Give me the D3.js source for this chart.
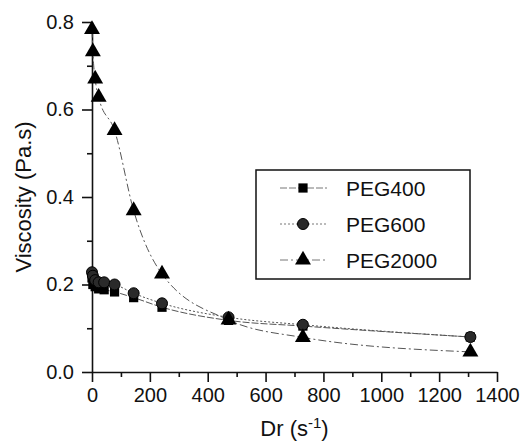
<!DOCTYPE html>
<html lang="en">
<head>
<meta charset="UTF-8">
<title>Viscosity vs Dr</title>
<script src="https://d3js.org/d3.v7.min.js"></script>
<style>
    body { margin: 0; background: #fff; }
    .axis path, .axis line { stroke: #111; stroke-width: 1.6; }
    .axis text { fill: #111; font-family: "Liberation Sans", Arial, sans-serif; font-size: 20px; }
    .title { fill: #111; font-family: "Liberation Sans", Arial, sans-serif; font-size: 22px; }
    .legend text { fill: #111; font-family: "Liberation Sans", Arial, sans-serif; font-size: 21px; }
</style>
</head>
<body>
<div id="chart"></div>
<script>
// shear rate (s-1)
const drPeg400  = [0, 3, 11, 23, 42, 78, 144, 242, 472, 729, 1308];
const drPeg600  = [0, 3, 11, 23, 42, 78, 144, 242, 472, 729, 1308];
const drPeg2000 = [0, 3, 11, 23, 78, 144, 242, 472, 729, 1308];

// viscosity (Pa.s)
const peg400  = [0.215, 0.200, 0.195, 0.190, 0.188, 0.183, 0.170, 0.148, 0.118, 0.105, 0.080];
const peg600  = [0.228, 0.220, 0.210, 0.205, 0.205, 0.200, 0.180, 0.157, 0.125, 0.108, 0.080];
const peg2000 = [0.783, 0.732, 0.670, 0.628, 0.552, 0.369, 0.224, 0.119, 0.079, 0.046];

const xTicks = [0, 200, 400, 600, 800, 1000, 1200, 1400];
const yTicks = [0.0, 0.2, 0.4, 0.6, 0.8];
const xMinor = [100, 300, 500, 700, 900, 1100, 1300];
const yMinor = [0.1, 0.3, 0.5, 0.7];

const series = [
    {name: "PEG400",  x: drPeg400,  y: peg400,  symbol: d3.symbolSquare,   size: 85,  dash: "7,2"},
    {name: "PEG600",  x: drPeg600,  y: peg600,  symbol: d3.symbolCircle,   size: 95,  dash: "2,2"},
    {name: "PEG2000", x: drPeg2000, y: peg2000, symbol: d3.symbolTriangle, size: 110, dash: "8,3,2,3"}
];

const W = 526, H = 444;
const margin = {top: 22, right: 29, bottom: 72, left: 92};
const width = W - margin.left - margin.right;
const height = H - margin.top - margin.bottom;

const svg = d3.select("#chart").append("svg")
    .attr("width", W).attr("height", H);
const g = svg.append("g").attr("transform", `translate(${margin.left},${margin.top})`);

const x = d3.scaleLinear().domain([0, 1400]).range([0, width]);
const y = d3.scaleLinear().domain([0, 0.8]).range([height, 0]);

// minor ticks
g.append("g").attr("class", "axis")
    .attr("transform", `translate(0,${height})`)
    .call(d3.axisBottom(x).tickValues(xMinor).tickSize(5).tickFormat(""))
    .select(".domain").remove();
g.append("g").attr("class", "axis")
    .call(d3.axisLeft(y).tickValues(yMinor).tickSize(5).tickFormat(""))
    .select(".domain").remove();

// major axes
g.append("g").attr("class", "axis")
    .attr("transform", `translate(0,${height})`)
    .call(d3.axisBottom(x).tickValues(xTicks).tickSize(10).tickSizeOuter(0).tickPadding(6)
        .tickFormat(d3.format("d")));
g.append("g").attr("class", "axis")
    .call(d3.axisLeft(y).tickValues(yTicks).tickSize(10).tickSizeOuter(0).tickPadding(8)
        .tickFormat(d3.format(".1f")));

// axis titles
svg.append("text").attr("class", "title")
    .attr("x", margin.left + x(700)).attr("y", 436)
    .attr("text-anchor", "middle")
    .html('Dr (s<tspan dy="-8" font-size="15">-1</tspan><tspan dy="8">)</tspan>');
svg.append("text").attr("class", "title")
    .attr("transform", `translate(31,${margin.top + height / 2}) rotate(-90)`)
    .attr("text-anchor", "middle")
    .text("Viscosity (Pa.s)");

// curves
const line = d3.line().curve(d3.curveMonotoneX);
series.forEach(s => {
    const pts = s.x.map((v, i) => [x(v), y(s.y[i])]);
    g.append("path")
        .attr("d", line(pts))
        .attr("fill", "none")
        .attr("stroke", "#555")
        .attr("stroke-width", 1)
        .attr("stroke-dasharray", s.dash);
});

// markers
series.forEach(s => {
    g.selectAll(null)
        .data(s.x.map((v, i) => [v, s.y[i]]))
        .enter().append("path")
        .attr("d", d3.symbol().type(s.symbol).size(s.size))
        .attr("transform", d => `translate(${x(d[0])},${y(d[1])})`)
        .attr("fill", s.name === "PEG600" ? "#2a2a2a" : "#000")
        .attr("stroke", s.name === "PEG600" ? "#000" : "none")
        .attr("stroke-width", 1);
});

// legend
const legend = svg.append("g").attr("class", "legend");
legend.append("rect")
    .attr("x", 256).attr("y", 170).attr("width", 214).attr("height", 109)
    .attr("fill", "#fff").attr("stroke", "#111").attr("stroke-width", 1.5);
const rowY = [188, 224, 260];
series.forEach((s, i) => {
    legend.append("line")
        .attr("x1", 280).attr("x2", 327)
        .attr("y1", rowY[i]).attr("y2", rowY[i])
        .attr("stroke", "#777").attr("stroke-width", 1)
        .attr("stroke-dasharray", s.dash);
    legend.append("path")
        .attr("d", d3.symbol().type(s.symbol).size(s.size))
        .attr("transform", `translate(303,${rowY[i]})`)
        .attr("fill", s.name === "PEG600" ? "#2a2a2a" : "#000")
        .attr("stroke", s.name === "PEG600" ? "#000" : "none");
    legend.append("text")
        .attr("x", 346).attr("y", rowY[i] + 7.5)
        .text(s.name);
});
</script>
</body>
</html>
